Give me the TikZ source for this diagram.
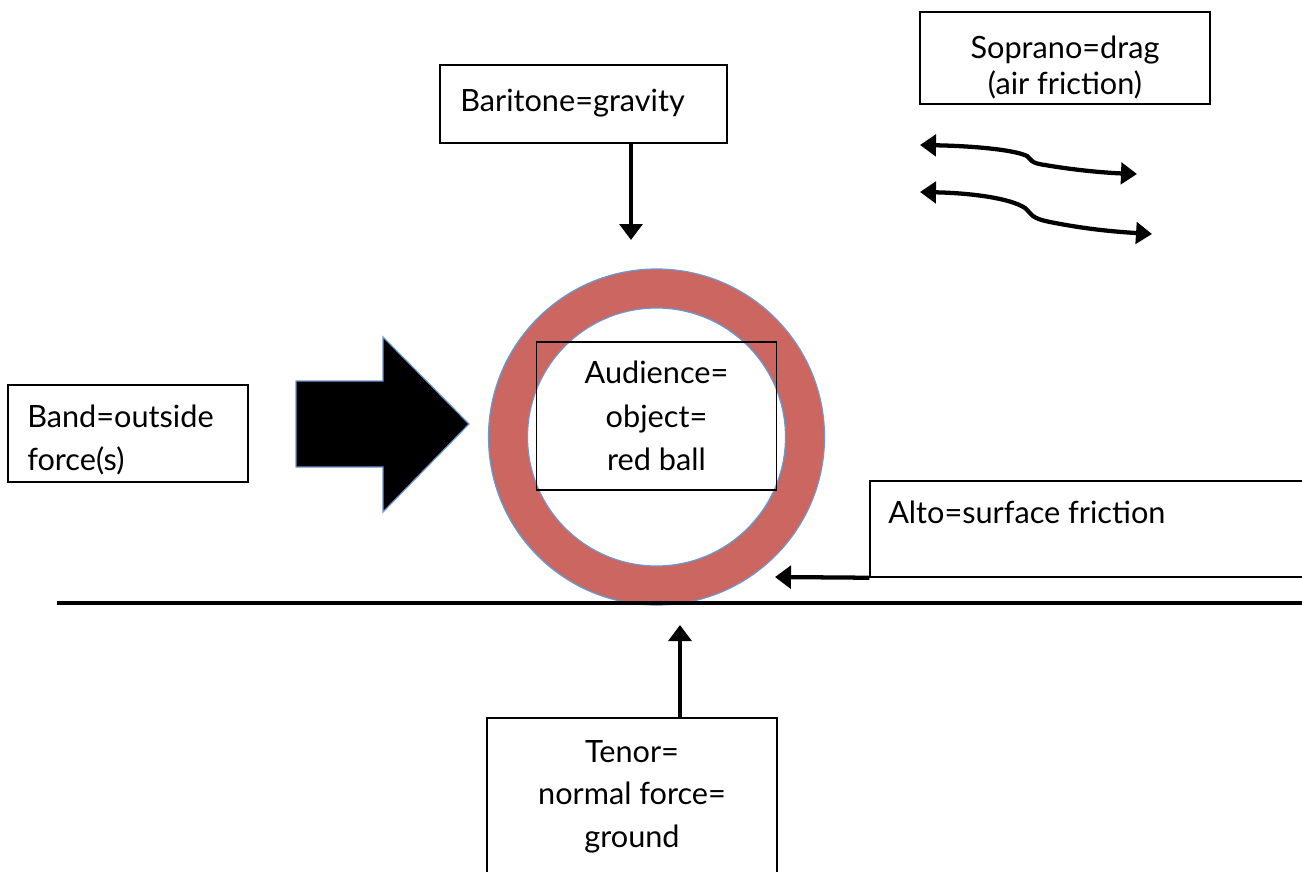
\documentclass[tikz,border=0pt]{standalone}
\usepackage{fontspec}
\setmainfont{Lato}
\usetikzlibrary{arrows.meta}
\definecolor{ringred}{RGB}{204,102,96}
\definecolor{ringblue}{RGB}{108,152,208}
\tikzset{
  lbl/.style={inner sep=0pt,font=\fontsize{23}{30}\selectfont},
  boxx/.style={draw=black,line width=1.1pt,inner sep=0pt},
  force/.style={line width=3.2pt,-{Triangle[width=17pt,length=12pt]}},
  wave/.style={line width=3.2pt,{Triangle[width=16pt,length=12pt]}-{Triangle[width=16pt,length=12pt]}}
}
\begin{document}
\begin{tikzpicture}[x=0.75pt,y=-0.75pt]
\useasboundingbox (0,0) rectangle (1302,871);
\clip (0,0) rectangle (1302,871);
% boxes
\node[boxx,minimum width=215.25pt,minimum height=58.5pt] (bari) at (583.5,104) {};
\node[boxx,minimum width=217.5pt,minimum height=69pt] (sopr) at (1065,58) {};
\node[boxx,minimum width=180pt,minimum height=72.75pt] (band) at (128,433.5) {};
\node[boxx,minimum width=330pt,minimum height=72pt] (alto) at (1090,529) {};
\node[boxx,minimum width=217.5pt,minimum height=136.5pt] (tenor) at (632,809) {};
% ring
\fill[ringred,even odd rule] (656.5,437) circle (126pt) (656.5,437) circle (96.75pt);
\draw[ringblue,line width=0.9pt] (656.5,437) circle (126pt);
\draw[ringblue,line width=0.9pt] (656.5,437) circle (96.75pt);
\node[boxx,minimum width=180pt,minimum height=111pt] (aud) at (656.5,416) {};
% big arrow
\draw[fill=black,draw=ringblue,line width=0.9pt] (296,381) -- (383,381) -- (383,337) -- (469,424) -- (383,512) -- (383,467) -- (296,467) -- cycle;
% ground
\draw[line width=3pt] (57,603) coordinate (gl) -- (1302,603) coordinate (gr);
% texts
\node[lbl,anchor=base west] (t1) at (460,111) {Baritone=gravity};
\node[lbl,anchor=base] (t2) at (1065,58) {Soprano=drag};
\node[lbl,anchor=base] (t3) at (1065,94) {(air friction)};
\node[lbl,anchor=base west] (t4) at (27,427) {Band=outside};
\node[lbl,anchor=base west] (t5) at (27,470) {force(s)};
\node[lbl,anchor=base] (t6) at (656.5,383) {Audience=};
\node[lbl,anchor=base] (t7) at (656.5,427) {object=};
\node[lbl,anchor=base] (t8) at (656.5,470) {red ball};
\node[lbl,anchor=base west] (t9) at (888,523) {Alto=surface friction};
\node[lbl,anchor=base] (t10) at (632,762) {Tenor=};
\node[lbl,anchor=base] (t11) at (632,804) {normal force=};
\node[lbl,anchor=base] (t12) at (632,847) {ground};
% force arrows
\coordinate (gtip) at (631,240);
\draw[force] (bari.south -| gtip) -- (gtip);
\coordinate (ftip) at (775,577);
\draw[force] (alto.south west) -- (ftip);
\coordinate (ntip) at (680,625);
\coordinate (nbase) at (680,718);
\draw[force] (nbase) -- (ntip);
% drag arrows
\coordinate (d1a) at (920,145);
\coordinate (d1b) at (1137,174);
\coordinate (d2a) at (920,192);
\coordinate (d2b) at (1152,234);
\draw[wave] (d1a) .. controls (975,146) and (1015,150) .. (1027,156) .. controls (1032,160) and (1030,163) .. (1045,165) .. controls (1080,171) and (1110,173) .. (d1b);
\draw[wave] (d2a) .. controls (970,193) and (1010,198) .. (1025,208) .. controls (1032,214) and (1030,218) .. (1050,222) .. controls (1090,230) and (1120,232) .. (d2b);
\end{tikzpicture}
\end{document}
